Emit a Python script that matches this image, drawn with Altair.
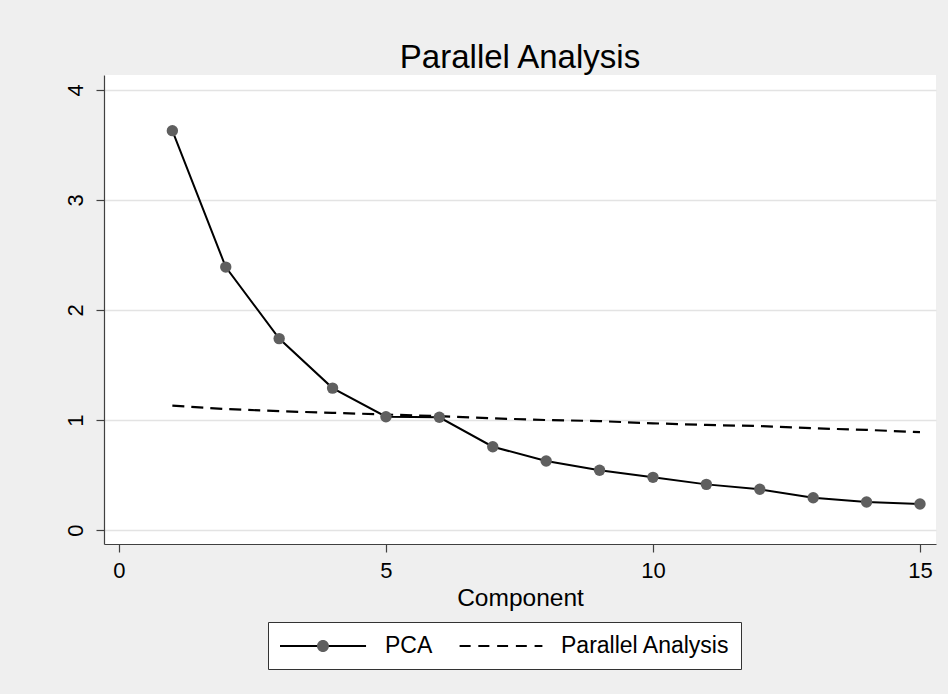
import altair as alt
import pandas as pd

components = list(range(1, 16))
pca_values = [3.63, 2.39, 1.74, 1.29, 1.03, 1.025, 0.757, 0.627, 0.543, 0.479,
              0.415, 0.37, 0.294, 0.255, 0.236]
pa_values = [1.13, 1.10, 1.08, 1.065, 1.05, 1.035, 1.015, 1.00, 0.99, 0.97,
             0.955, 0.945, 0.925, 0.91, 0.89]
series_names = ["PCA", "Parallel Analysis"]
x_ticks = [0, 5, 10, 15]
y_ticks = [0, 1, 2, 3, 4]

df = pd.DataFrame({
    "Component": components * 2,
    "value": pca_values + pa_values,
    "series": [series_names[0]] * len(components) + [series_names[1]] * len(components),
})

FONT = "Liberation Sans"

x_enc = alt.X("Component:Q",
              scale=alt.Scale(domain=[-0.28, 15.3], nice=False, zero=False),
              axis=alt.Axis(values=x_ticks, title="Component", grid=False, format="d",
                            labelFontSize=22, titleFontSize=24.5, labelPadding=8,
                            titlePadding=5, titleFontWeight="normal"))
y_enc = alt.Y("value:Q",
              scale=alt.Scale(domain=[-0.127, 4.136], nice=False, zero=False),
              axis=alt.Axis(values=y_ticks, title=None, grid=True, labelAngle=-90,
                            format="d", labelFontSize=22, labelPadding=9))

base = alt.Chart(df)

pca_line = base.transform_filter(alt.datum.series == series_names[0]).mark_line(
    color="black", strokeWidth=2).encode(x=x_enc, y=y_enc)

pa_line = base.transform_filter(alt.datum.series == series_names[1]).mark_line(
    color="black", strokeWidth=2.2, strokeDash=[12, 7]).encode(x="Component:Q", y="value:Q")

points = base.transform_filter(alt.datum.series == series_names[0]).mark_circle(
    color="#5f5f5f", size=130, opacity=1).encode(x="Component:Q", y="value:Q")

# legend glyphs: unit = 12 px (symbol size 576), drawn from x=-1 to x=6.17 (86 px)
pca_line_glyph = "M-1,0H6.17"
pa_line_glyph = ("M-0.7,0H0.22M0.86,0H1.78M2.43,0H3.34"
                 "M3.99,0H4.9M5.55,0H6.2")
pca_dot_glyph = ("M3.08,0A0.5,0.5 0 1,1 2.08,0A0.5,0.5 0 1,1 3.08,0Z")
pa_dot_glyph = "M0,0Z"

common_legend = dict(title=None, orient="none", legendX=164, legendY=547,
                     direction="horizontal", symbolSize=576, symbolOpacity=1,
                     labelFontSize=23, labelFont=FONT, labelLimit=400,
                     labelOffset=80, columnPadding=22, padding=11)

legend_lines = base.mark_point(filled=False, opacity=0, color="black",
                               strokeWidth=2).encode(
    x="Component:Q", y="value:Q",
    shape=alt.Shape("series:N",
                    scale=alt.Scale(domain=series_names,
                                    range=[pca_line_glyph, pa_line_glyph]),
                    legend=alt.Legend(symbolStrokeWidth=2, labelColor="black",
                                      strokeColor="#333333", fillColor="white",
                                      **common_legend)),
)

legend_dots = base.mark_point(filled=True, opacity=0, color="#5f5f5f").encode(
    x="Component:Q", y="value:Q",
    shape=alt.Shape("series:N",
                    scale=alt.Scale(domain=series_names,
                                    range=[pca_dot_glyph, pa_dot_glyph]),
                    legend=alt.Legend(labelExpr="''", **common_legend)),
)

chart = alt.layer(pca_line, pa_line, points, legend_lines, legend_dots).resolve_scale(
    shape="independent"
).resolve_legend(
    shape="independent"
).properties(
    width=832, height=469,
    title=alt.TitleParams("Parallel Analysis", fontSize=33, font=FONT,
                          fontWeight="normal", color="black", offset=0),
    autosize=alt.AutoSizeParams(type="none"),
    padding={"left": 104, "top": 75, "right": 12, "bottom": 150},
    background="#efefef",
).configure_view(
    fill="white", stroke=None
).configure_axis(
    labelFont=FONT, titleFont=FONT, labelColor="black", titleColor="black",
    domainColor="#404040", tickColor="#404040", domainWidth=1.2, tickWidth=1.2,
    tickSize=8, gridColor="#e3e3e3", gridWidth=1.5,
)

chart.save("out.html", embed_options={"renderer": "svg", "actions": False})
